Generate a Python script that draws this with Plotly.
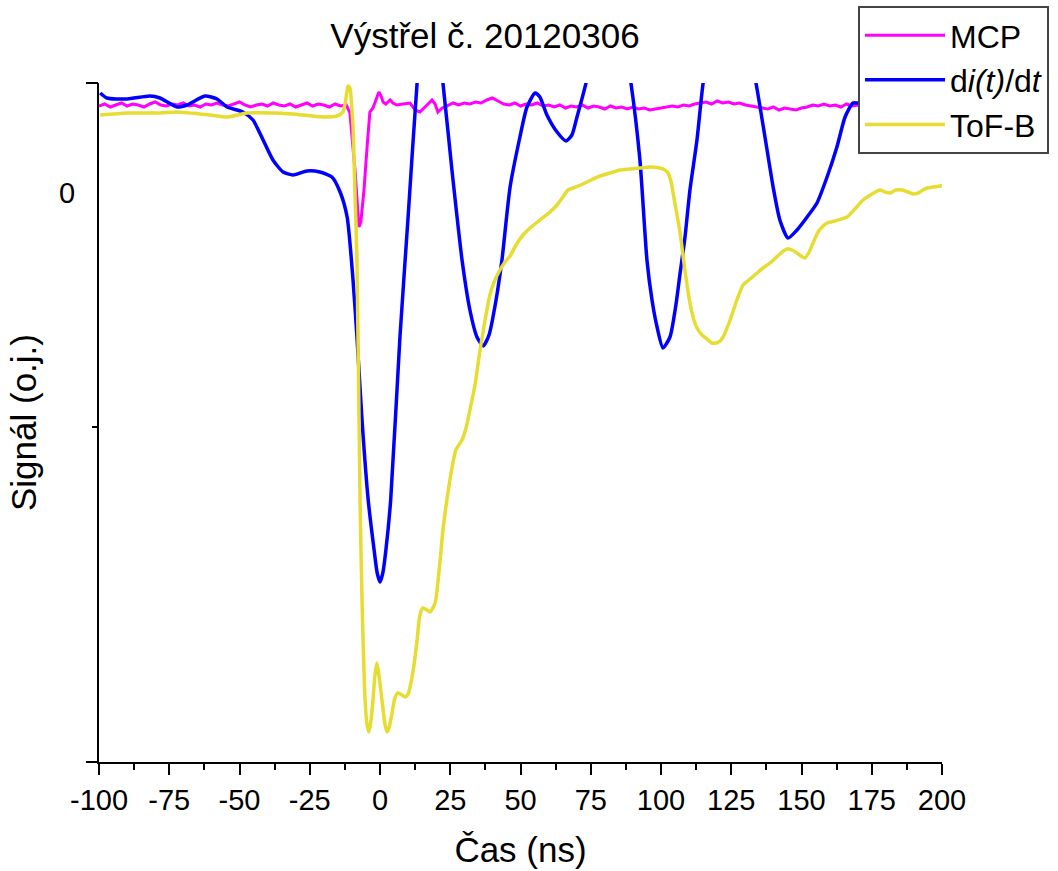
import plotly.graph_objects as go

FONT = "Arial, 'Liberation Sans', sans-serif"

# ---------------- data (time in ns, signal in arbitrary units) ----------------
mcp_x = [
    -100, -98, -96, -94, -92, -90, -88, -86, -84, -82, -80, -78, -76, -74, -72,
    -70, -68, -66, -64, -62, -60, -58, -56, -54, -52, -50, -48, -46, -44, -42,
    -40, -38, -36, -34, -32, -30, -28, -26, -24, -22, -20, -18, -16, -14, -12,
    -10.7, -8.9, -8.2, -7.5, -6.8, -5.7, -4.6, -3.6, -2.5, -1.4, -0.4, 0.4, 1.1, 2.1,
    3.6, 4.6, 6, 8.2, 10.7, 12.5, 14.2, 16.4, 18.5, 19.6, 20.6, 22.1, 23.1, 26,
    28, 30, 32, 34, 36, 38, 40, 42,
    44, 46, 48, 50, 52, 54, 56, 58, 60,
    62, 64, 66, 68, 70, 72, 74, 76, 78, 80, 82, 84, 86, 88, 90,
    92, 94, 96, 98, 100, 102, 104, 106, 108, 110, 112,
    114, 116, 118, 120, 122, 124, 126, 128, 130, 132, 134,
    136, 138, 140, 142, 144, 146, 148, 150,
    152, 154, 156, 158, 160, 162, 164, 166, 168,
    170, 172, 174, 176, 178, 180, 182, 184, 186, 188, 190, 192, 194, 196, 198, 200,
]
mcp_y = [
    87, 89, 86, 88, 90, 87, 89, 88, 86, 89, 91, 88, 87, 89, 88,
    90, 87, 88, 86, 89, 88, 90, 88, 87, 89, 91, 88, 86, 88, 89,
    87, 90, 88, 87, 89, 86, 88, 90, 87, 89, 88, 86, 89, 87, 88,
    80, 23, -12, -34, -29, 3, 46, 81, 85, 93, 101, 97, 91, 89,
    93, 90, 88, 89, 90, 83, 81, 87, 93, 89, 81, 85, 86, 90,
    88, 90, 89, 91, 90, 93, 95, 92,
    89, 88, 90, 87, 89, 88, 90, 87, 88,
    86, 88, 85, 87, 86, 88, 85, 87, 86, 84, 87, 85, 86, 84, 86,
    84, 85, 83, 84, 85, 86, 87, 86, 88, 87, 89,
    90, 91, 89, 92, 90, 91, 89, 90, 88, 87, 86,
    85, 84, 86, 83, 85, 84, 83, 85,
    86, 88, 87, 89, 87, 88, 86, 89, 87,
    88, 87, 89, 88, 86, 88, 89, 87, 88, 86, 89, 88, 87, 89, 88, 87,
]

didt_x = [
    -99.6, -97.2, -90, -81.9, -78.3, -72.2, -68.7, -62.3, -58, -54.4,
    -48.8, -45.2, -41.6, -38.1, -34.5, -31, -26, -21.4, -17.1, -14.2,
    -11.7, -9.6, -8.2, -6.4, -4.2, -2.1, -1, 0, 1, 2.1,
    3.8, 7.1, 10, 13.2, 15.3, 17.4, 19.6, 22.4, 25.6, 29.2,
    32, 34.5, 36.7, 38.8, 41.3, 43.4, 46.3, 49.8, 52.3, 55.2,
    56.9, 59.4, 63, 66.2, 68.3, 70.1, 73.3, 76.9, 81.1, 85.4,
    89.3, 92.5, 95, 96.8, 98.6, 100.7, 103.2, 105.3, 106.8, 108.5,
    110.3, 112.8, 115, 119.2, 123.8, 129.2, 133.8, 137, 139.9, 142.3,
    145.2, 148.4, 152, 155.5, 159.1, 162.6, 165.5, 168.3, 170.1, 174.4,
    185, 200,
]
didt_y = [
    100, 95, 94, 97, 95, 86, 88, 97, 94, 86,
    81, 73, 53, 33, 21, 18, 22, 21, 16, 1,
    -24, -87, -144, -227, -307, -357, -380, -389, -380, -357,
    -307, -144, -24, 110, 173, 213, 173, 110, 23, -67,
    -117, -144, -153, -142, -107, -67, 6, 56, 86, 100,
    96, 78, 61, 52, 58, 76, 110, 173, 203, 173,
    110, 33, -67, -107, -134, -155, -144, -112, -80, -45,
    3, 53, 110, 173, 203, 173, 110, 56, 6, -27,
    -45, -37, -24, -10, 16, 46, 76, 90, 90, 93,
    93, 93,
]

tof_x = [
    -99.6, -90, -78.3, -72.2, -60.5, -54.4, -47.3, -36.7, -31, -20.3,
    -15.3, -13.2, -12.1, -11.4, -10.7, -10, -9.6, -8.9, -8.2, -7.1,
    -6.4, -5.3, -4.6, -3.9, -3.2, -2.5, -1.8, -1.1, -0.4, 0.7,
    1.8, 2.5, 3.2, 4.3, 5.3, 6.4, 7.8, 8.9, 10, 10.7,
    12.1, 13.2, 14.2, 15.3, 16.7, 17.8, 19.6, 21.4, 22.4, 23.8,
    25.6, 27, 29.2, 30.6, 32, 33.8, 35.6, 37.4, 39.1, 40.9,
    42.7, 44.5, 46.3, 48.4, 50.9, 53.4, 56.9, 60.5, 63, 65.1,
    66.9, 68.7, 72.2, 75.1, 78.3, 81.9, 85.4, 89, 92.5, 96.1,
    99.6, 101.4, 102.5, 103.6, 104.3, 105.7, 106.8, 108.5, 110.3, 111.7,
    112.8, 114.6, 116.4, 118.1, 119.6, 121, 122.1, 123.5, 124.6, 127,
    129.2, 131.7, 134.2, 136.3, 138.8, 142.3, 144.1, 145.2, 146.6, 148.4,
    149.8, 151.2, 152.7, 154.1, 155.9, 157.7, 159.1, 161.9, 166.2, 169,
    171.9, 175.1, 177.9, 179.7, 181.5, 183.6, 185.8, 187.9, 189.7, 191.5,
    193.2, 194.7, 196.8, 199.3, 200,
]
tof_y = [
    78, 80, 80, 81, 78, 76, 80, 80, 79, 76,
    77, 81, 95, 107, 105, 83, 66, 0, -67, -307,
    -407, -507, -532, -539, -527, -507, -482, -470, -482, -507,
    -532, -539, -535, -520, -505, -500, -502, -504, -501, -494,
    -472, -447, -422, -415, -417, -419, -410, -367, -337, -307,
    -275, -257, -247, -235, -217, -192, -157, -127, -102, -87,
    -77, -69, -63, -52, -42, -35, -27, -19, -12, -4,
    3, 5, 9, 13, 17, 20, 23, 24, 25, 26,
    25, 23, 20, 11, 0, -22, -40, -77, -110, -127,
    -135, -142, -146, -150, -150, -148, -144, -135, -127, -107,
    -92, -86, -80, -75, -70, -61, -57, -56, -57, -60,
    -63, -65, -59, -50, -39, -33, -30, -28, -24, -16,
    -7, -1, 3, 1, 0, 3, 3, 1, -1, 0,
    3, 5, 6, 7, 8,
]

x_ticks = [-100, -75, -50, -25, 0, 25, 50, 75, 100, 125, 150, 175, 200]
x_tick_labels = ["-100", "-75", "-50", "-25", "0", "25", "50", "75",
                 "100", "125", "150", "175", "200"]
x_minor_ticks = [-87.5, -62.5, -37.5, -12.5, 12.5, 37.5, 62.5, 87.5,
                 112.5, 137.5, 162.5, 187.5]
y_range = [-569, 110]
y_major_ticks = [109.6, -568.6]
y_minor_ticks = [-234]
y_label_ticks = [0]
y_label_text = ["0"]

# ---------------- figure ----------------
fig = go.Figure()
fig.add_trace(go.Scatter(x=mcp_x, y=mcp_y, mode="lines", name="MCP",
                         line=dict(color="#FF00FF", width=3)))
fig.add_trace(go.Scatter(x=didt_x, y=didt_y, mode="lines",
                         name="d<i>i(t)</i>/d<i>t</i>",
                         line=dict(color="#0000FF", width=3.5, shape="spline", smoothing=0.6)))
fig.add_trace(go.Scatter(x=tof_x, y=tof_y, mode="lines", name="ToF-B",
                         line=dict(color="#E6DC32", width=3.5, shape="spline", smoothing=0.6)))
# empty helper trace so that the tick-mark axis (y2) is rendered
fig.add_trace(go.Scatter(x=[None], y=[None], yaxis="y2", mode="lines",
                         showlegend=False, hoverinfo="skip"))

fig.update_layout(
    width=1058, height=871,
    margin=dict(l=99, r=116, t=83, b=109, autoexpand=False),
    paper_bgcolor="white", plot_bgcolor="white",
    font=dict(family=FONT, color="black"),
    title=dict(text="Výstřel č. 20120306", xref="container", yref="container",
               x=485 / 1058, y=1 - 36 / 871, xanchor="center", yanchor="middle",
               font=dict(size=35, family=FONT, color="black")),
    xaxis=dict(range=[-100, 200], tickmode="array", tickvals=x_ticks, ticktext=x_tick_labels,
               ticks="outside", ticklen=11, tickwidth=2, tickcolor="black",
               showline=True, linewidth=2, linecolor="black",
               showgrid=False, zeroline=False, tickfont=dict(size=29),
               minor=dict(tickmode="array", tickvals=x_minor_ticks, ticks="outside",
                          ticklen=6, tickwidth=2, tickcolor="black", showgrid=False),
               title=dict(text="Čas (ns)", font=dict(size=35), standoff=23),
               automargin=False),
    yaxis=dict(range=y_range, tickmode="array", tickvals=y_label_ticks, ticktext=y_label_text,
               ticks="", showline=True, linewidth=2, linecolor="black",
               showgrid=False, zeroline=False, tickfont=dict(size=29),
               ticklabelstandoff=16,
               title=dict(text="Signál (o.j.)", font=dict(size=35), standoff=12),
               automargin=False),
    yaxis2=dict(range=y_range, overlaying="y", side="left", tickmode="array",
                tickvals=y_major_ticks, ticktext=["", ""], ticks="outside", ticklen=12,
                tickwidth=2, tickcolor="black", showline=False, showgrid=False,
                zeroline=False, showticklabels=True,
                minor=dict(tickmode="array", tickvals=y_minor_ticks, ticks="outside",
                           ticklen=6, tickwidth=2, tickcolor="black", showgrid=False),
                automargin=False),
    legend=dict(x=0.9004, y=1.1135, xanchor="left", yanchor="top",
                bgcolor="white", bordercolor="#444", borderwidth=2,
                font=dict(size=32, family=FONT, color="black"), itemwidth=80,
                tracegroupgap=0),
    showlegend=True,
)

fig.write_html("out.html")
